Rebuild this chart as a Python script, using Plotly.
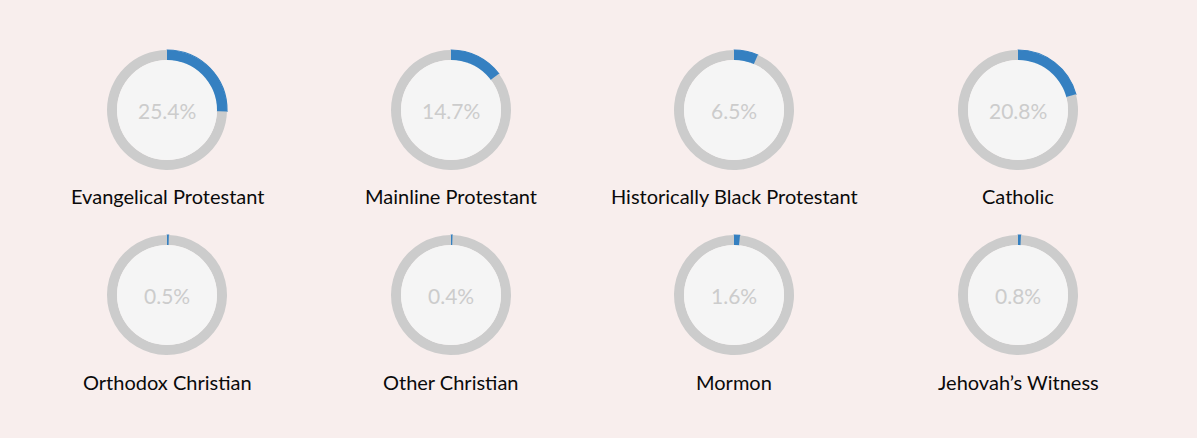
import plotly.graph_objects as go

categories = ["Evangelical Protestant", "Mainline Protestant", "Historically Black Protestant", "Catholic",
              "Orthodox Christian", "Other Christian", "Mormon", "Jehovah\u2019s Witness"]
percentages = [25.4, 14.7, 6.5, 20.8, 0.5, 0.4, 1.6, 0.8]

W, H = 1197, 438
BG = "#f8eeed"
BLUE = "#3580c1"
GREY = "#cccccc"
INNER = "#f5f5f5"

col_x = [167, 451, 734, 1018]
row_y = [110, 295]
label_y = [196, 382]
R_OUT = 60
R_IN = 50

fig = go.Figure()
shapes = []
annotations = []
for i, (cat, v) in enumerate(zip(categories, percentages)):
    r, c = divmod(i, 4)
    cx, cy = col_x[c], row_y[r]
    fig.add_trace(go.Pie(
        values=[v, 100 - v],
        labels=["share", "rest"],
        sort=False,
        direction="clockwise",
        rotation=0,
        hole=R_IN / R_OUT,
        marker=dict(colors=[BLUE, GREY], line=dict(color=[BLUE, GREY], width=[1.2, 0])),
        textinfo="none",
        hoverinfo="skip",
        showlegend=False,
        domain=dict(x=[(cx - R_OUT) / W, (cx + R_OUT) / W],
                    y=[1 - (cy + R_OUT) / H, 1 - (cy - R_OUT) / H]),
    ))
    shapes.append(dict(type="circle", xref="paper", yref="paper",
                       x0=(cx - R_IN) / W, x1=(cx + R_IN) / W,
                       y0=1 - (cy + R_IN) / H, y1=1 - (cy - R_IN) / H,
                       fillcolor=INNER, line=dict(width=0), layer="above"))
    annotations.append(dict(x=cx / W, y=1 - cy / H, xref="paper", yref="paper",
                            xanchor="center", yanchor="middle",
                            text=f"{v}%", showarrow=False,
                            font=dict(family="Lato", size=21, color="#cccccc")))
    annotations.append(dict(x=cx / W, y=1 - label_y[r] / H, xref="paper", yref="paper",
                            xanchor="center", yanchor="middle",
                            text=cat, showarrow=False,
                            font=dict(family="Lato", size=20, color="#0a0a0a")))

fig.update_layout(width=W, height=H, margin=dict(l=0, r=0, t=0, b=0),
                  paper_bgcolor=BG, plot_bgcolor=BG,
                  shapes=shapes, annotations=annotations)
fig.write_html("out.html", config={"displayModeBar": False},
               post_script="document.body.style.margin='0';document.body.style.overflow='hidden';")
